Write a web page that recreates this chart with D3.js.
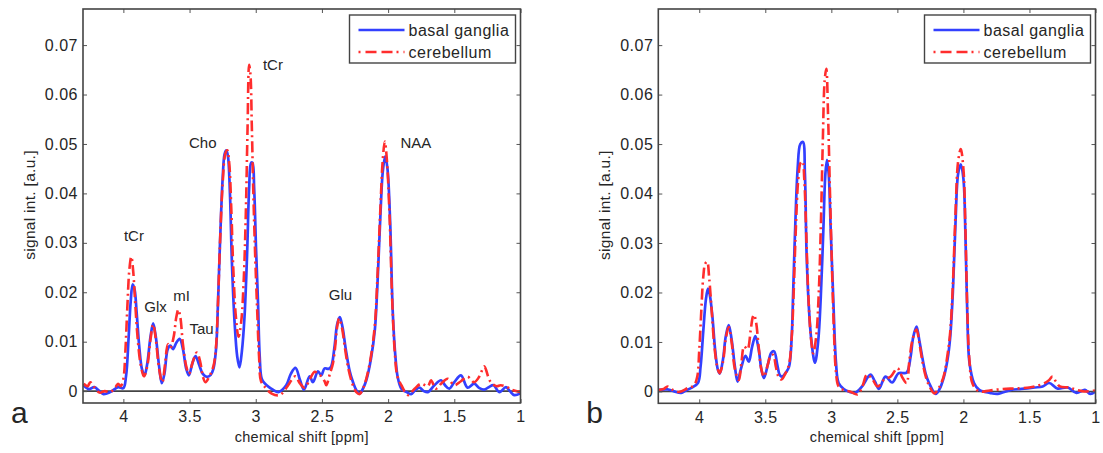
<!DOCTYPE html>
<html>
<head>
<meta charset="utf-8">
<script src="https://cdnjs.cloudflare.com/ajax/libs/d3/7.8.5/d3.min.js"></script>
<style>
    body { margin: 0; background: #fff; }
    text { font-family: "Liberation Sans", Arial, sans-serif; fill: #262626; }
</style>
</head>
<body>
<svg id="chart" width="1103" height="453"></svg>
<script>
// ticks and labels
const xTicks = [4, 3.5, 3, 2.5, 2, 1.5, 1];
const yTicks = [0, 0.01, 0.02, 0.03, 0.04, 0.05, 0.06, 0.07];
const seriesNames = ["basal ganglia", "cerebellum"];
const panelNames = ["a", "b"];

// peak labels on panel a: [name, ppm, signal]
const peakLabels = [
    ["tCr", 2.87, 0.066],
    ["Cho", 3.40, 0.0502],
    ["NAA", 1.79, 0.0502],
    ["tCr", 3.92, 0.0315],
    ["Glx", 3.757, 0.017],
    ["mI", 3.56, 0.0192],
    ["Tau", 3.41, 0.0127],
    ["Glu", 2.36, 0.0194]
];

// panel a, basal ganglia [ppm, signal]
const basalA = [
    [4.30, 0.0012], [4.26, 0.0004], [4.22, 0.0008], [4.18, 0.0000], [4.15, -0.0006], [4.10, -0.0002],
    [4.04, 0.0008], [4.00, 0.0006], [3.98, 0.0030], [3.96, 0.0110], [3.945, 0.0180], [3.93, 0.0216],
    [3.915, 0.0205], [3.90, 0.0160], [3.88, 0.0090], [3.86, 0.0045], [3.84, 0.0032], [3.82, 0.0055],
    [3.795, 0.0110], [3.775, 0.0137], [3.755, 0.0110], [3.73, 0.0050], [3.71, 0.0016], [3.69, 0.0035],
    [3.665, 0.0085], [3.645, 0.0092], [3.625, 0.0085], [3.60, 0.0098], [3.575, 0.0106], [3.55, 0.0085],
    [3.525, 0.0045], [3.505, 0.0032], [3.48, 0.0055], [3.455, 0.0071], [3.43, 0.0055], [3.40, 0.0035],
    [3.37, 0.0029], [3.34, 0.0033], [3.32, 0.0045], [3.30, 0.0085], [3.285, 0.0180], [3.27, 0.0300],
    [3.25, 0.0430], [3.235, 0.0480], [3.222, 0.0487], [3.21, 0.0475], [3.195, 0.0400], [3.18, 0.0260],
    [3.16, 0.0140], [3.14, 0.0070], [3.123, 0.0048], [3.105, 0.0080], [3.085, 0.0150], [3.065, 0.0280],
    [3.05, 0.0410], [3.035, 0.0462], [3.025, 0.0462], [3.012, 0.0410], [2.998, 0.0290], [2.983, 0.0180],
    [2.97, 0.0070], [2.955, 0.0025], [2.93, 0.0015], [2.90, 0.0008], [2.87, 0.0003], [2.83, -0.0002],
    [2.77, 0.0012], [2.735, 0.0035], [2.70, 0.0047], [2.665, 0.0022], [2.636, 0.0003], [2.593, 0.0030],
    [2.568, 0.0018], [2.53, 0.0040], [2.505, 0.0032], [2.48, 0.0046], [2.45, 0.0045], [2.43, 0.0050],
    [2.405, 0.0090], [2.385, 0.0135], [2.365, 0.0150], [2.345, 0.0130], [2.32, 0.0085], [2.29, 0.0040],
    [2.265, 0.0018], [2.24, 0.0002], [2.215, -0.0005], [2.19, 0.0005], [2.165, 0.0022], [2.13, 0.0065],
    [2.10, 0.0125], [2.08, 0.0220], [2.06, 0.0345], [2.04, 0.0445], [2.022, 0.0475], [2.005, 0.0450],
    [1.985, 0.0345], [1.965, 0.0160], [1.945, 0.0070], [1.928, 0.0029], [1.90, 0.0005], [1.86, -0.0002],
    [1.827, -0.0006], [1.795, 0.0002], [1.764, 0.0007], [1.73, 0.0000], [1.70, -0.0002], [1.65, 0.0012],
    [1.60, 0.0022], [1.57, 0.0012], [1.538, 0.0005], [1.50, 0.0018], [1.45, 0.0032], [1.40, 0.0007],
    [1.35, 0.0015], [1.31, 0.0006], [1.274, 0.0003], [1.24, 0.0008], [1.204, 0.0012], [1.16, -0.0002],
    [1.11, 0.0008], [1.08, 0.0000], [1.047, -0.0008], [1.00, -0.0004]
];

// panel a, cerebellum
const cerebA = [
    [4.30, 0.0015], [4.27, 0.0010], [4.25, 0.0018], [4.22, 0.0008], [4.18, -0.0003], [4.14, 0.0000],
    [4.10, -0.0002], [4.06, 0.0008], [4.04, 0.0015], [4.02, 0.0010], [4.00, 0.0025], [3.985, 0.0080],
    [3.97, 0.0170], [3.955, 0.0245], [3.94, 0.0272], [3.925, 0.0240], [3.91, 0.0175], [3.89, 0.0100],
    [3.87, 0.0055], [3.845, 0.0030], [3.82, 0.0050], [3.795, 0.0105], [3.775, 0.0135], [3.755, 0.0105],
    [3.73, 0.0045], [3.706, 0.0018], [3.685, 0.0055], [3.663, 0.0095], [3.645, 0.0088], [3.62, 0.0110],
    [3.60, 0.0150], [3.585, 0.0165], [3.57, 0.0150], [3.55, 0.0095], [3.525, 0.0050], [3.505, 0.0035],
    [3.475, 0.0060], [3.445, 0.0078], [3.42, 0.0060], [3.40, 0.0030], [3.38, 0.0018], [3.35, 0.0030],
    [3.32, 0.0050], [3.30, 0.0090], [3.285, 0.0180], [3.27, 0.0300], [3.25, 0.0420], [3.23, 0.0480],
    [3.215, 0.0487], [3.20, 0.0460], [3.185, 0.0370], [3.17, 0.0250], [3.15, 0.0150], [3.13, 0.0110],
    [3.11, 0.0140], [3.09, 0.0230], [3.075, 0.0360], [3.062, 0.0530], [3.05, 0.0660], [3.04, 0.0640],
    [3.03, 0.0540], [3.02, 0.0420], [3.005, 0.0280], [2.99, 0.0170], [2.975, 0.0070], [2.96, 0.0020],
    [2.93, 0.0008], [2.88, -0.0005], [2.82, -0.0008], [2.76, 0.0010], [2.73, 0.0022], [2.70, 0.0030],
    [2.665, 0.0015], [2.63, 0.0007], [2.59, 0.0025], [2.555, 0.0039], [2.53, 0.0035], [2.505, 0.0030],
    [2.48, 0.0020], [2.467, 0.0012], [2.44, 0.0035], [2.417, 0.0056], [2.40, 0.0090], [2.385, 0.0130],
    [2.37, 0.0147], [2.35, 0.0130], [2.325, 0.0085], [2.30, 0.0045], [2.27, 0.0015], [2.24, -0.0002],
    [2.215, -0.0006], [2.19, 0.0005], [2.165, 0.0025], [2.13, 0.0070], [2.10, 0.0135], [2.08, 0.0235],
    [2.06, 0.0360], [2.04, 0.0470], [2.025, 0.0505], [2.01, 0.0470], [1.99, 0.0360], [1.97, 0.0190],
    [1.95, 0.0080], [1.93, 0.0030], [1.90, 0.0012], [1.85, -0.0008], [1.80, 0.0005], [1.75, 0.0015],
    [1.70, 0.0010], [1.676, 0.0022], [1.64, 0.0005], [1.60, 0.0015], [1.55, 0.0025], [1.50, 0.0012],
    [1.45, 0.0020], [1.40, 0.0029], [1.35, 0.0018], [1.31, 0.0030], [1.274, 0.0050], [1.245, 0.0030],
    [1.224, 0.0018], [1.18, 0.0010], [1.15, 0.0012], [1.10, 0.0008], [1.07, 0.0003], [1.00, -0.0002]
];

// panel b, basal ganglia
const basalB = [
    [4.31, 0.0003], [4.24, 0.0004], [4.19, 0.0000], [4.137, -0.0003], [4.10, 0.0002], [4.06, 0.0007],
    [4.01, 0.0017], [3.99, 0.0050], [3.97, 0.0120], [3.95, 0.0185], [3.934, 0.0208], [3.92, 0.0195],
    [3.90, 0.0150], [3.88, 0.0085], [3.86, 0.0045], [3.845, 0.0036], [3.82, 0.0065], [3.80, 0.0110],
    [3.777, 0.0134], [3.755, 0.0105], [3.73, 0.0050], [3.71, 0.0020], [3.685, 0.0045], [3.65, 0.0072],
    [3.625, 0.0060], [3.60, 0.0090], [3.575, 0.0112], [3.55, 0.0085], [3.53, 0.0045], [3.51, 0.0027],
    [3.48, 0.0055], [3.455, 0.0078], [3.433, 0.0081], [3.41, 0.0055], [3.39, 0.0033], [3.372, 0.0030],
    [3.34, 0.0040], [3.32, 0.0050], [3.30, 0.0110], [3.289, 0.0200], [3.275, 0.0320], [3.255, 0.0450],
    [3.235, 0.0500], [3.215, 0.0504], [3.20, 0.0440], [3.188, 0.0285], [3.17, 0.0170], [3.15, 0.0100],
    [3.124, 0.0058], [3.10, 0.0100], [3.08, 0.0190], [3.06, 0.0330], [3.045, 0.0440], [3.033, 0.0468],
    [3.02, 0.0440], [3.005, 0.0330], [2.985, 0.0185], [2.965, 0.0060], [2.945, 0.0017], [2.906, 0.0005],
    [2.86, -0.0001], [2.82, -0.0003], [2.767, 0.0010], [2.704, 0.0034], [2.67, 0.0020], [2.64, 0.0005],
    [2.59, 0.0030], [2.54, 0.0018], [2.49, 0.0037], [2.43, 0.0038], [2.40, 0.0070], [2.38, 0.0110],
    [2.355, 0.0131], [2.335, 0.0105], [2.31, 0.0067], [2.285, 0.0035], [2.26, 0.0017], [2.21, -0.0005],
    [2.18, 0.0005], [2.147, 0.0030], [2.12, 0.0065], [2.10, 0.0110], [2.08, 0.0200], [2.06, 0.0340],
    [2.04, 0.0440], [2.02, 0.0459], [2.00, 0.0430], [1.985, 0.0320], [1.97, 0.0150], [1.955, 0.0060],
    [1.92, 0.0017], [1.88, 0.0003], [1.80, -0.0003], [1.74, -0.0005], [1.64, 0.0003], [1.56, 0.0005],
    [1.46, 0.0008], [1.40, 0.0010], [1.35, 0.0017], [1.29, 0.0006], [1.21, 0.0008], [1.145, -0.0003],
    [1.08, 0.0003], [1.04, -0.0005], [1.00, 0.0000]
];

// panel b, cerebellum
const cerebB = [
    [4.31, 0.0003], [4.27, 0.0005], [4.24, 0.0010], [4.20, 0.0003], [4.15, -0.0001], [4.086, 0.0007],
    [4.04, 0.0012], [4.015, 0.0030], [4.00, 0.0083], [3.985, 0.0160], [3.97, 0.0230], [3.955, 0.0258],
    [3.94, 0.0262], [3.925, 0.0230], [3.905, 0.0160], [3.885, 0.0090], [3.86, 0.0045], [3.845, 0.0037],
    [3.82, 0.0060], [3.80, 0.0105], [3.777, 0.0130], [3.755, 0.0100], [3.73, 0.0045], [3.70, 0.0023],
    [3.68, 0.0060], [3.66, 0.0091], [3.635, 0.0085], [3.61, 0.0125], [3.595, 0.0150], [3.585, 0.0155],
    [3.57, 0.0140], [3.55, 0.0090], [3.53, 0.0045], [3.51, 0.0030], [3.48, 0.0055], [3.46, 0.0072],
    [3.44, 0.0074], [3.42, 0.0050], [3.40, 0.0030], [3.377, 0.0024], [3.35, 0.0035], [3.32, 0.0055],
    [3.30, 0.0110], [3.285, 0.0200], [3.27, 0.0320], [3.25, 0.0430], [3.233, 0.0462], [3.218, 0.0465],
    [3.205, 0.0430], [3.19, 0.0320], [3.175, 0.0200], [3.155, 0.0110], [3.137, 0.0077], [3.115, 0.0110],
    [3.095, 0.0200], [3.078, 0.0350], [3.065, 0.0500], [3.05, 0.0630], [3.038, 0.0652], [3.025, 0.0560],
    [3.01, 0.0400], [2.995, 0.0250], [2.98, 0.0120], [2.965, 0.0040], [2.945, 0.0010], [2.90, 0.0002],
    [2.86, 0.0000], [2.80, -0.0006], [2.765, 0.0010], [2.73, 0.0034], [2.69, 0.0025], [2.65, 0.0010],
    [2.60, 0.0024], [2.55, 0.0030], [2.50, 0.0047], [2.46, 0.0027], [2.43, 0.0017], [2.41, 0.0060],
    [2.385, 0.0105], [2.355, 0.0125], [2.335, 0.0100], [2.31, 0.0060], [2.285, 0.0030], [2.26, 0.0012],
    [2.22, -0.0004], [2.19, 0.0005], [2.15, 0.0030], [2.12, 0.0075], [2.10, 0.0120], [2.08, 0.0215],
    [2.06, 0.0360], [2.04, 0.0465], [2.02, 0.0490], [2.00, 0.0450], [1.985, 0.0330], [1.97, 0.0160],
    [1.955, 0.0065], [1.93, 0.0015], [1.88, 0.0000], [1.80, 0.0002], [1.70, 0.0005], [1.60, 0.0006],
    [1.50, 0.0008], [1.46, 0.0010], [1.40, 0.0015], [1.355, 0.0022], [1.325, 0.0030], [1.30, 0.0020],
    [1.27, 0.0010], [1.20, 0.0008], [1.14, 0.0003], [1.08, 0.0000], [1.00, 0.0002]
];

const blue = "#3340ff", red = "#ff2d2d", ink = "#262626";
const fontSize = 16;

var svg = d3.select("#chart");

// one panel per frame
var panels = [
    { left: 83, right: 520.5, top: 9, bottom: 403, domain: [4.305, 1], series: [basalA, cerebA], labels: peakLabels },
    { left: 658.3, right: 1095.5, top: 9, bottom: 403.3, domain: [4.31, 1], series: [basalB, cerebB], labels: [] }
];

panels.forEach(function (p, i) {
    var x = d3.scaleLinear().domain(p.domain).range([p.left, p.right]);
    var y = d3.scaleLinear().domain([-0.0024, 0.0773]).range([p.bottom, p.top]);
    var g = svg.append("g");

    var line = d3.line()
        .x(function (d) { return x(d[0]); })
        .y(function (d) { return y(d[1]); })
        .curve(d3.curveCatmullRom.alpha(0.5));

    // zero line
    g.append("line")
        .attr("x1", p.left).attr("x2", p.right)
        .attr("y1", y(0)).attr("y2", y(0))
        .attr("stroke", "#444").attr("stroke-width", 1.6);

    var clipId = "clip" + i;
    svg.append("clipPath").attr("id", clipId).append("rect")
        .attr("x", p.left).attr("y", p.top)
        .attr("width", p.right - p.left).attr("height", p.bottom - p.top);

    // spectra
    g.append("path")
        .datum(p.series[0])
        .attr("clip-path", "url(#" + clipId + ")")
        .attr("fill", "none")
        .attr("stroke", blue)
        .attr("stroke-width", 2.7)
        .attr("stroke-linejoin", "round")
        .attr("d", line);

    g.append("path")
        .datum(p.series[1])
        .attr("clip-path", "url(#" + clipId + ")")
        .attr("fill", "none")
        .attr("stroke", red)
        .attr("stroke-width", 2.6)
        .attr("stroke-dasharray", "11,4,2,4")
        .attr("d", line);

    // axes, ticks inside, mirrored like matlab
    var axB = d3.axisBottom(x).tickValues(xTicks).tickSize(-4).tickPadding(8).tickFormat(d3.format("~g"));
    var axT = d3.axisTop(x).tickValues(xTicks).tickSize(-4).tickFormat("");
    var axL = d3.axisLeft(y).tickValues(yTicks).tickSize(-4).tickPadding(5).tickFormat(d3.format("~g"));
    var axR = d3.axisRight(y).tickValues(yTicks).tickSize(-4).tickFormat("");

    [
        [axB, "translate(0," + p.bottom + ")"],
        [axT, "translate(0," + p.top + ")"],
        [axL, "translate(" + p.left + ",0)"],
        [axR, "translate(" + p.right + ",0)"]
    ].forEach(function (a) {
        var ga = g.append("g").attr("transform", a[1]).call(a[0]);
        ga.select(".domain").remove();
        ga.selectAll("line").attr("stroke", "#555").attr("stroke-width", 1);
        ga.selectAll("text")
            .attr("fill", ink)
            .style("font-size", fontSize + "px")
            .style("letter-spacing", "0.5px")
            .style("font-family", '"Liberation Sans", Arial, sans-serif');
    });

    // box
    g.append("rect")
        .attr("x", p.left).attr("y", p.top)
        .attr("width", p.right - p.left).attr("height", p.bottom - p.top)
        .attr("fill", "none").attr("stroke", "#444").attr("stroke-width", 1.6);

    // axis titles
    g.append("text")
        .attr("x", (p.left + p.right) / 2).attr("y", 442)
        .attr("text-anchor", "middle")
        .style("font-size", "14.5px")
        .style("letter-spacing", "0.3px")
        .text("chemical shift [ppm]");

    g.append("text")
        .attr("transform", "translate(" + (p.left - 48) + "," + ((p.top + p.bottom) / 2 - 1) + ") rotate(-90)")
        .attr("text-anchor", "middle")
        .style("font-size", "15.5px")
        .style("letter-spacing", "0.3px")
        .text("signal int. [a.u.]");

    // panel letter
    g.append("text")
        .attr("x", p.left - 72).attr("y", 423)
        .style("font-size", "30px")
        .text(panelNames[i]);

    // peak labels
    p.labels.forEach(function (l) {
        g.append("text")
            .attr("x", x(l[1])).attr("y", y(l[2]))
            .attr("dy", "0.35em")
            .attr("text-anchor", "middle")
            .style("font-size", "15px")
            .text(l[0]);
    });

    // legend
    var lx = p.right - 171, ly = 15;
    var lg = g.append("g").attr("transform", "translate(" + lx + "," + ly + ")");
    lg.append("rect")
        .attr("width", 166).attr("height", 48)
        .attr("fill", "#fff").attr("stroke", "#444").attr("stroke-width", 1.4);
    [blue, red].forEach(function (c, k) {
        var yy = 15 + k * 22;
        lg.append("line")
            .attr("x1", 9).attr("x2", 55).attr("y1", yy).attr("y2", yy)
            .attr("stroke", c).attr("stroke-width", 2.6)
            .attr("stroke-dasharray", k ? "2,5,11,5,11,4" : null);
        lg.append("text")
            .attr("x", 59).attr("y", yy).attr("dy", "0.35em")
            .style("font-size", fontSize + "px")
            .style("letter-spacing", "0.5px")
            .text(seriesNames[k]);
    });
});
</script>
</body>
</html>
